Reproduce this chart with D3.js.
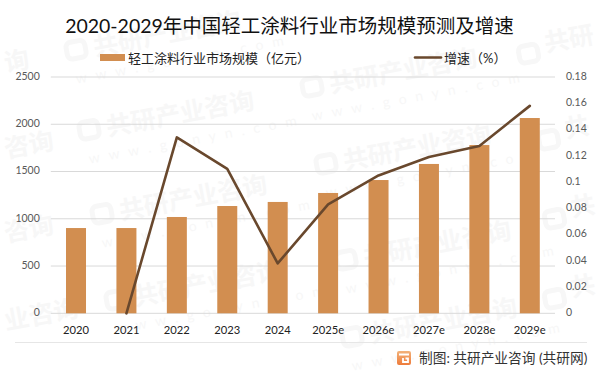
<!DOCTYPE html>
<html>
<head>
<meta charset="utf-8">
<script src="https://cdn.jsdelivr.net/npm/d3@7"></script>
<style>
    html, body { margin: 0; padding: 0; background: #fff; }
    svg { display: block; }
    text { font-family: Lato, "Noto Sans CJK SC", sans-serif; }
</style>
</head>
<body>
<svg id="chart" width="601" height="375"></svg>
<script>
const categories = ["2020", "2021", "2022", "2023", "2024", "2025e", "2026e", "2027e", "2028e", "2029e"];
const marketSize = [902, 902, 1019, 1135, 1178, 1273, 1410, 1580, 1780, 2066];
const growth = [null, 0, 0.134, 0.110, 0.038, 0.083, 0.105, 0.119, 0.1275, 0.158];
const leftTicks = [0, 500, 1000, 1500, 2000, 2500];
const rightTicks = [0, 0.02, 0.04, 0.06, 0.08, 0.1, 0.12, 0.14, 0.16, 0.18];
// complete watermarks: logo corner
const watermarks = [
    [67, 53], [303, 90],
    [80, 133], [317, 167],
    [93, 217], [337, 263],
    [107, 303], [343, 340]
];
// watermarks that run off the page edge: only the part that shows
const leftEdgeMarks = [
    [6, 72, "询"], [6, 158, "咨询"], [6, 242, "咨询"], [6, 330, "业咨询"]
];
const rightEdgeMarks = [
    [546, 52, "共研"], [566, 138, "共"], [572, 217, "共"], [572, 297, "共"]
];

const svg = d3.select("#chart");
const margins = {left: 50.8, right: 46, top: 77, bottom: 61.7};
const width = 601, height = 375;
const markColor = "#f7f7f7";

const x = d3.scaleBand().domain(categories)
    .range([margins.left, width - margins.right]);
const yLeft = d3.scaleLinear().domain([0, 2500])
    .range([height - margins.bottom, margins.top]);
const yRight = d3.scaleLinear().domain([0, 0.18])
    .range([height - margins.bottom, margins.top]);

// faint watermarks go underneath everything
const wm = svg.append("g").attr("class", "watermarks");
const addLogo = (g, lx) => g.append("rect")
    .attr("x", lx).attr("y", -10).attr("width", 19).attr("height", 17)
    .attr("rx", 5).attr("fill", "none").attr("stroke", markColor).attr("stroke-width", 5);

watermarks.forEach(([wx, wy]) => {
    const g = wm.append("g").attr("transform", `translate(${wx},${wy}) rotate(-10.5)`);
    addLogo(g, 0);
    g.append("text").attr("x", 27).attr("y", 8)
        .attr("font-size", 25).attr("font-weight", 700).attr("fill", markColor)
        .text("共研产业咨询");
    g.append("text").attr("x", 4).attr("y", 32)
        .attr("font-size", 14).attr("letter-spacing", 9).attr("fill", markColor)
        .text("www.gonyn.com");
});
leftEdgeMarks.concat(rightEdgeMarks).forEach(([wx, wy, label]) => {
    const g = wm.append("g").attr("transform", `translate(${wx},${wy}) rotate(-10.5)`);
    g.append("text")
        .attr("font-size", 25).attr("font-weight", 700).attr("fill", markColor)
        .text(label);
});
rightEdgeMarks.forEach(([wx, wy]) => {
    addLogo(wm.append("g").attr("transform", `translate(${wx},${wy}) rotate(-10.5)`), -27);
});

// grid lines
svg.append("g").selectAll("line")
    .data(leftTicks)
    .enter().append("line")
    .attr("x1", margins.left).attr("x2", width - margins.right)
    .attr("y1", d => yLeft(d)).attr("y2", d => yLeft(d))
    .attr("stroke", "#d9d9d9").attr("stroke-width", 1);

// bars
const barWidth = 20;
svg.append("g").selectAll("rect")
    .data(categories)
    .enter().append("rect")
    .attr("x", d => x(d) + x.bandwidth() / 2 - barWidth / 2)
    .attr("width", barWidth)
    .attr("y", (d, i) => yLeft(marketSize[i]))
    .attr("height", (d, i) => yLeft(0) - yLeft(marketSize[i]))
    .attr("fill", "#d28e50");

// growth line
const line = d3.line()
    .defined(d => d.v !== null)
    .x(d => x(d.c) + x.bandwidth() / 2)
    .y(d => yRight(d.v));
svg.append("path")
    .datum(categories.map((c, i) => ({c, v: growth[i]})))
    .attr("d", line)
    .attr("fill", "none")
    .attr("stroke", "#69482d")
    .attr("stroke-width", 2.6)
    .attr("stroke-linecap", "round")
    .attr("stroke-linejoin", "round");

// axes
const xAxis = d3.axisBottom(x).tickSize(0).tickPadding(13);
const leftAxis = d3.axisLeft(yLeft).tickValues(leftTicks).tickSize(0).tickPadding(11)
    .tickFormat(d => String(d));
const rightAxis = d3.axisRight(yRight).tickValues(rightTicks).tickSize(0).tickPadding(11)
    .tickFormat(d => String(d));

const gx = svg.append("g").attr("transform", `translate(0,${height - margins.bottom})`).call(xAxis);
const gl = svg.append("g").attr("transform", `translate(${margins.left},0)`).call(leftAxis);
const gr = svg.append("g").attr("transform", `translate(${width - margins.right},0)`).call(rightAxis);
[gx, gl, gr].forEach(g => g.select(".domain").remove());
gx.selectAll("text").attr("font-size", 11.2).attr("fill", "#222");
gl.selectAll("text").attr("font-size", 10.5).attr("fill", "#595959").attr("y", -1);
gr.selectAll("text").attr("font-size", 10.5).attr("fill", "#595959").attr("y", -1);
[gx, gl, gr].forEach(g => g.attr("font-family", null));

// title
svg.append("text")
    .attr("x", 289.5).attr("y", 33)
    .attr("text-anchor", "middle")
    .attr("font-size", 19.5).attr("fill", "#111")
    .text("2020-2029年中国轻工涂料行业市场规模预测及增速");

// legend
svg.append("rect").attr("x", 100).attr("y", 54).attr("width", 25).attr("height", 7).attr("fill", "#d28e50");
svg.append("text").attr("x", 128).attr("y", 63).attr("font-size", 13).attr("fill", "#222")
    .text("轻工涂料行业市场规模（亿元）");
svg.append("line").attr("x1", 415).attr("x2", 441).attr("y1", 57.5).attr("y2", 57.5)
    .attr("stroke", "#69482d").attr("stroke-width", 2.6).attr("stroke-linecap", "round");
svg.append("text").attr("x", 444).attr("y", 63).attr("font-size", 13).attr("fill", "#222")
    .text("增速（%）");

// footer
svg.append("line").attr("x1", 15).attr("x2", 587).attr("y1", 342.5).attr("y2", 342.5)
    .attr("stroke", "#e6e6e6").attr("stroke-width", 1);

const defs = svg.append("defs");
const grad = defs.append("linearGradient").attr("id", "logoGrad")
    .attr("x1", 0).attr("y1", 0).attr("x2", 0).attr("y2", 1);
grad.append("stop").attr("offset", "0%").attr("stop-color", "#f2b27a");
grad.append("stop").attr("offset", "100%").attr("stop-color", "#ee7b3a");
svg.append("rect").attr("x", 397).attr("y", 351).attr("width", 14).attr("height", 14)
    .attr("rx", 2).attr("fill", "url(#logoGrad)");
svg.append("path").attr("d", "M399 354.5H409M403 358V362H408V358.5H405.5")
    .attr("fill", "none").attr("stroke", "#fff").attr("stroke-width", 1.8);
svg.append("text").attr("x", 419).attr("y", 362.5).attr("font-size", 13.7).attr("fill", "#333")
    .text("制图: 共研产业咨询 (共研网)");
</script>
</body>
</html>
